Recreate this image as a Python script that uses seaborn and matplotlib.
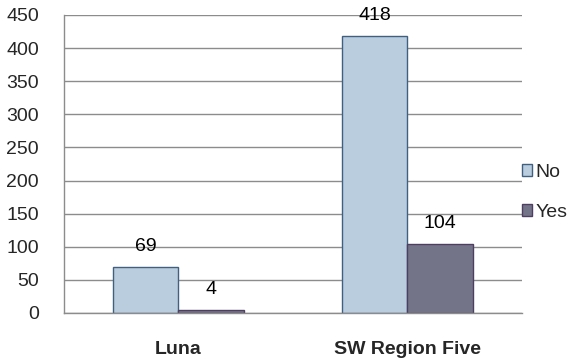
import pandas as pd
import matplotlib
matplotlib.use("Agg")
import matplotlib.pyplot as plt
import seaborn as sns

# valores
regioes = ["Luna", "SW Region Five"]
respostas = ["No", "Yes"]
valores_no = [69, 418]
valores_yes = [4, 104]

df = pd.DataFrame({
    "regiao": regioes * 2,
    "resposta": ["No"] * len(regioes) + ["Yes"] * len(regioes),
    "valor": valores_no + valores_yes,
})

sns.set_style("white")
plt.rcParams["font.family"] = ["Liberation Sans", "DejaVu Sans"]

cores = {"No": "#B9CDDF", "Yes": "#747489"}
bordas = {"No": "#41607F", "Yes": "#4E3F62"}

fig = plt.figure(figsize=(5.74, 3.62), dpi=100)
ax = fig.add_axes([0.1115, 0.1354, 0.7975, 0.8232])

sns.barplot(data=df, x="regiao", y="valor", hue="resposta", hue_order=respostas,
            palette=cores, width=0.57, saturation=1, ax=ax, legend=False)

for cont, resp in zip(ax.containers, respostas):
    for barra in cont:
        barra.set_edgecolor(bordas[resp])
        barra.set_linewidth(1.0)
    ax.bar_label(cont, padding=9, fontsize=14, color="black")

ax.set_xlim(-0.5, 1.5)
ax.set_ylim(0, 450)
ax.set_yticks(range(0, 451, 50))
ax.yaxis.grid(True, color="#8C8C8C", linewidth=1)
ax.set_axisbelow(True)
ax.set_xlabel("")
ax.set_ylabel("")

ax.set_xticks([0, 1])
ax.set_xticklabels(regioes, fontsize=14, fontweight="bold")
ax.set_xticks([-0.5, 0.5, 1.5], minor=True)
ax.tick_params(axis="x", which="major", length=0, pad=20)
ax.tick_params(axis="x", which="minor", length=6, color="#8C8C8C", width=1)
ax.tick_params(axis="y", length=6, color="#8C8C8C", width=1, labelsize=14, pad=12)

for s in ["top", "right"]:
    ax.spines[s].set_visible(False)
for s in ["left", "bottom"]:
    ax.spines[s].set_color("#8C8C8C")
    ax.spines[s].set_linewidth(1)

handles = [plt.Rectangle((0, 0), 1, 1, facecolor=cores[r], edgecolor=bordas[r]) for r in respostas]
ax.legend(handles, respostas, loc="center left", bbox_to_anchor=(1.0, 0.405), frameon=False,
          fontsize=14, handlelength=0.55, handleheight=0.55, handletextpad=0.15, labelspacing=1.2,
          borderaxespad=0.0, borderpad=0.0)

fig.savefig("out.png", dpi=100)
